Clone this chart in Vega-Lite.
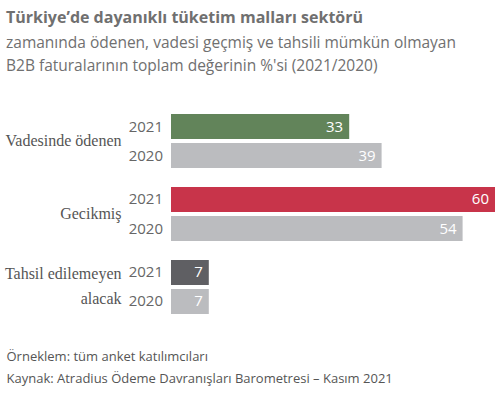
{
  "$schema": "https://vega.github.io/schema/vega-lite/v6.json",
  "width": 324,
  "height": 200,
  "autosize": "none",
  "padding": {"left": 171, "top": 114, "right": 5, "bottom": 80},
  "background": "white",
  "title": {
    "text": "Türkiye’de dayanıklı tüketim malları sektörü",
    "subtitle": ["zamanında ödenen, vadesi geçmiş ve tahsili mümkün olmayan", "B2B faturalarının toplam değerinin %'si (2021/2020)"],
    "anchor": "start",
    "frame": "group",
    "dx": -165,
    "offset": 40,
    "font": "Open Sans",
    "fontSize": 16,
    "fontWeight": "bold",
    "color": "#707070",
    "subtitleFont": "Open Sans",
    "subtitleFontSize": 15.5,
    "subtitleColor": "#707070",
    "subtitlePadding": 10,
    "subtitleLineHeight": 23
  },
  "data": {
    "values": [
      {"kategori": "Vadesinde ödenen", "yil": "2021", "deger": 33},
      {"kategori": "Vadesinde ödenen", "yil": "2020", "deger": 39},
      {"kategori": "Gecikmiş", "yil": "2021", "deger": 60},
      {"kategori": "Gecikmiş", "yil": "2020", "deger": 54},
      {"kategori": "Tahsil edilemeyen alacak", "yil": "2021", "deger": 7},
      {"kategori": "Tahsil edilemeyen alacak", "yil": "2020", "deger": 7}
    ]
  },
  "transform": [
    {"calculate": "datum.yil == '2020' ? '2020' : datum.kategori", "as": "seri"}
  ],
  "encoding": {
    "y": {
      "field": "kategori",
      "type": "nominal",
      "sort": ["Vadesinde ödenen", "Gecikmiş", "Tahsil edilemeyen alacak"],
      "scale": {"paddingInner": 0.26, "paddingOuter": 0},
      "axis": {
        "title": null,
        "ticks": false,
        "domain": false,
        "labelPadding": 50,
        "labelFont": "Liberation Serif",
        "labelFontSize": 16,
        "labelColor": "#555555",
        "labelLineHeight": 25,
        "labelOffset": {"condition": {"test": "datum.value == 'Tahsil edilemeyen alacak'", "value": -13}, "value": 0},
        "labelExpr": "datum.value == 'Tahsil edilemeyen alacak' ? ['Tahsil edilemeyen', 'alacak'] : datum.label"
      }
    },
    "yOffset": {
      "field": "yil",
      "type": "nominal",
      "sort": ["2021", "2020"],
      "scale": {"paddingInner": 0.138, "paddingOuter": 0}
    }
  },
  "layer": [
    {
      "mark": {"type": "bar"},
      "encoding": {
        "x": {
          "field": "deger",
          "type": "quantitative",
          "scale": {"domain": [0, 60], "nice": false},
          "axis": {
            "labels": false,
            "ticks": false,
            "domain": false,
            "grid": false,
            "title": ["Örneklem: tüm anket katılımcıları", "Kaynak: Atradius Ödeme Davranışları Barometresi – Kasım 2021"],
            "titleAnchor": "start",
            "titleAlign": "left",
            "titleX": -165,
            "titlePadding": 36,
            "titleFont": "Open Sans",
            "titleFontSize": 13,
            "titleFontWeight": "normal",
            "titleColor": "#555555",
            "titleLineHeight": 22
          }
        },
        "color": {
          "field": "seri",
          "type": "nominal",
          "scale": {
            "domain": ["Vadesinde ödenen", "Gecikmiş", "Tahsil edilemeyen alacak", "2020"],
            "range": ["#62845a", "#c8344a", "#5f5f63", "#bbbcbf"]
          },
          "legend": null
        }
      }
    },
    {
      "mark": {"type": "text", "align": "right", "baseline": "middle", "dx": -6, "font": "Open Sans", "fontSize": 15, "color": "white"},
      "encoding": {
        "x": {"field": "deger", "type": "quantitative"},
        "text": {"field": "deger", "type": "quantitative"}
      }
    },
    {
      "mark": {"type": "text", "align": "right", "baseline": "middle", "dx": -8, "font": "Open Sans", "fontSize": 15, "color": "#666666"},
      "encoding": {
        "x": {"datum": 0},
        "text": {"field": "yil", "type": "nominal"}
      }
    }
  ],
  "config": {"view": {"stroke": null}}
}
